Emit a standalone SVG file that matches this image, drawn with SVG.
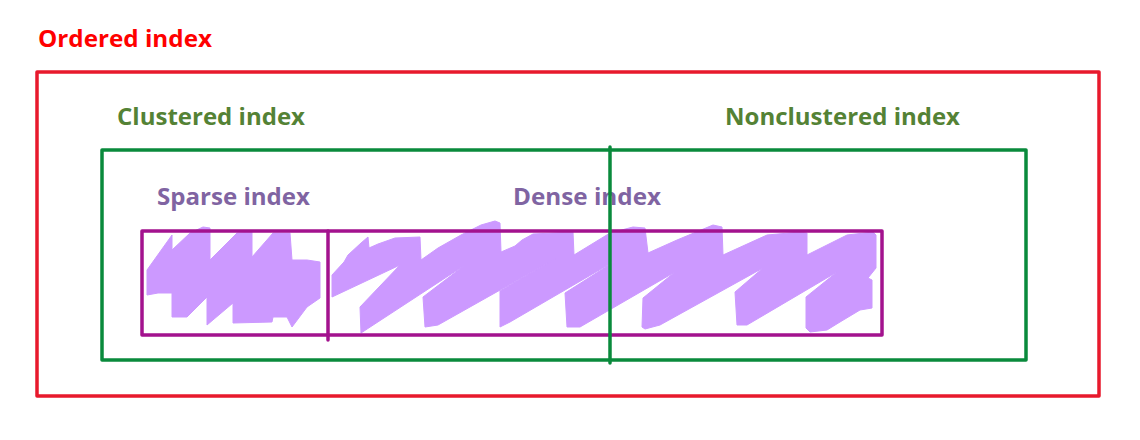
<svg xmlns="http://www.w3.org/2000/svg" width="1140" height="440" viewBox="0 0 1140 440">
<style>
.lbl{font-family:"Open Sans","Noto Sans","Liberation Sans",sans-serif;font-weight:700;font-size:23px}
.box{fill:none;stroke-width:3.5;stroke-linejoin:round}
.scr{fill:#cc99ff;stroke:#cc99ff;stroke-width:1;stroke-linejoin:round}
</style>
<rect width="1140" height="440" fill="#ffffff"/>
<g id="scribble">
<path class="scr" d="M147,270 L172,235 L172,250 L190,233 L203,227 L210,228 L210,260 L237,233 L252,232 L252,257 L273,233 L290,233 L292,260 L307,260 L320,262 L320,298 L307,307 L292,327 L287,317 L273,317 L272,322 L233,323 L233,303 L207,325 L207,297 L187,317 L172,317 L172,293 L158,293 L147,295 Z"/>
<path class="scr" d="M332,275 L344,262 L348,255 L361,243 L368,237 L369,248 L378,244 L395,238 L420,237 L421,260 L438,248 L461,235 L481,225 L495,221 L500,223 L501,252 L515,246 L522,240 L533,234 L573,232 L574,255 L610,233 L633,227 L645,228 L648,253 L677,240 L713,225 L722,227 L723,255 L767,235 L800,232 L807,233 L807,255 L847,235 L873,232 L876,235 L876,268 L868,278 L872,280 L872,308 L860,310 L840,322 L827,330 L810,332 L806,328 L806,297 L837,272 L747,325 L737,325 L735,292 L763,268 L660,325 L645,329 L642,327 L643,298 L675,272 L580,327 L567,327 L565,293 L620,258 L510,322 L500,327 L500,291 L557,258 L438,325 L425,327 L423,297 L465,265 L361,333 L360,307 L400,265 L332,297 Z"/>
</g>
<g id="ordered-index">
<rect class="box" x="37" y="72" width="1062" height="324" stroke="#e8192c"/>
<text class="lbl" x="38" y="47" fill="#ff0000" textLength="174" lengthAdjust="spacingAndGlyphs">Ordered index</text>
</g>
<g id="clustered-index">
<rect class="box" x="102" y="150" width="924" height="210" stroke="#0a8a3c"/>
<text class="lbl" x="117" y="125" fill="#548235" textLength="188" lengthAdjust="spacingAndGlyphs">Clustered index</text>
</g>
<g id="nonclustered-index">
<text class="lbl" x="725" y="125" fill="#548235" textLength="235" lengthAdjust="spacingAndGlyphs">Nonclustered index</text>
</g>
<g id="sparse-index">
<rect class="box" x="142" y="231" width="740" height="104" stroke="#a3128e"/>
<text class="lbl" x="157" y="205" fill="#8064a2" textLength="153" lengthAdjust="spacingAndGlyphs">Sparse index</text>
</g>
<g id="dense-index">
<text class="lbl" x="513" y="205" fill="#8064a2" textLength="148" lengthAdjust="spacingAndGlyphs">Dense index</text>
</g>
<g id="connectors">
<line x1="328" y1="231" x2="328" y2="340" stroke="#a3128e" stroke-width="3.5" stroke-linecap="round"/>
<line x1="610" y1="147" x2="610" y2="363" stroke="#0a8a3c" stroke-width="3.5" stroke-linecap="round"/>
</g>
</svg>
